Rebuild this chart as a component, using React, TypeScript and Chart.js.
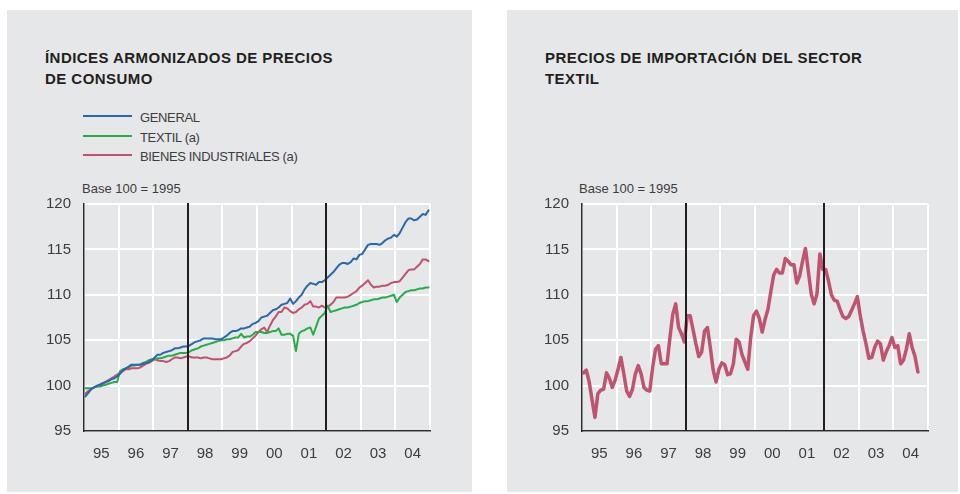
import React, { useEffect, useRef } from "react";
import { Chart, registerables } from "chart.js";

Chart.register(...registerables);

// ---------- DATA ----------
const yearLabels = ["95", "96", "97", "98", "99", "00", "01", "02", "03", "04"];
const breakMonths = [36, 84]; // Jan 1998, Jan 2002
const yTicks = [95, 100, 105, 110, 115, 120];

// Monthly, Jan 1995 - Dec 2004 (Base 100 = 1995)
const general = [
  98.8, 99.2, 99.6, 99.8, 100.0, 100.1, 100.2, 100.4, 100.5, 100.7, 100.8, 101.0,
  101.3, 101.7, 101.9, 102.1, 102.3, 102.3, 102.3, 102.3, 102.4, 102.5, 102.6, 102.8,
  103.1, 103.4, 103.4, 103.6, 103.7, 103.8, 103.9, 104.1, 104.1, 104.2, 104.3, 104.3,
  104.4, 104.6, 104.8, 104.9, 105.0, 105.2, 105.2, 105.2, 105.2, 105.1, 105.1, 105.1,
  105.3, 105.5, 105.8, 106.0, 106.0, 106.1, 106.3, 106.3, 106.4, 106.5, 106.8, 106.9,
  107.1, 107.5, 107.6, 107.7, 108.0, 108.3, 108.4, 108.6, 108.9, 109.0, 109.1, 109.6,
  109.0, 109.3, 109.7, 110.0, 110.6, 111.0, 111.3, 111.2, 111.1, 111.4, 111.4, 111.6,
  111.9, 112.2, 112.5, 112.9, 113.3, 113.5, 113.5, 113.4, 113.6, 114.0, 113.9, 114.4,
  114.5, 115.0, 115.5, 115.6, 115.6, 115.6, 115.5, 115.7, 116.0, 116.2, 116.3, 116.6,
  116.4, 116.8, 117.4, 118.0, 118.4, 118.4, 118.2, 118.3, 118.6, 118.9, 118.8, 119.3,
];

const textil = [
  99.7, 99.7, 99.7, 99.8, 99.9, 99.9, 100.0, 100.1, 100.2, 100.3, 100.4, 100.4,
  101.6, 101.8, 101.9, 102.0, 102.2, 102.2, 102.3, 102.3, 102.5, 102.6, 102.8, 102.9,
  102.9, 103.0, 103.0, 103.1, 103.2, 103.3, 103.3, 103.4, 103.5, 103.6, 103.6, 103.6,
  103.7, 103.9, 104.0, 104.1, 104.3, 104.4, 104.5, 104.6, 104.7, 104.8, 104.9, 105.0,
  105.0, 105.1, 105.1, 105.2, 105.3, 105.3, 105.7, 105.3, 105.4, 105.4, 105.6, 105.9,
  105.9, 105.9, 105.8, 105.8, 105.9, 106.0, 106.0, 106.3, 105.6, 105.6, 105.7, 105.7,
  105.5, 103.8, 105.7, 106.0, 106.1, 106.3, 106.4, 105.6, 106.5, 107.4, 107.7, 108.0,
  108.8, 108.1, 108.2, 108.3, 108.4, 108.5, 108.6, 108.6, 108.7, 108.8, 108.9, 109.1,
  109.2, 109.3, 109.3, 109.4, 109.5, 109.5, 109.6, 109.7, 109.7, 109.8, 109.9, 110.0,
  109.2, 109.7, 110.0, 110.3, 110.4, 110.5, 110.5, 110.6, 110.7, 110.7, 110.8, 110.8,
];

const bienesIndustriales = [
  99.1, 99.4, 99.6, 99.8, 99.9, 100.1, 100.3, 100.4, 100.6, 100.8, 101.0, 101.2,
  101.4, 101.6, 101.8, 101.8, 101.9, 101.9, 101.9, 102.0, 102.2, 102.4, 102.5, 102.7,
  102.9, 102.8, 102.7, 102.7, 102.6, 102.7, 102.9, 103.1, 103.1, 103.0, 103.1, 103.2,
  103.2, 103.1, 103.1, 103.1, 103.0, 103.1, 103.1, 103.0, 102.9, 102.9, 102.9, 102.9,
  103.0, 103.1, 103.3, 103.7, 103.8, 103.9, 104.3, 104.6, 104.7, 104.9, 105.2, 105.5,
  105.9, 106.2, 106.4, 105.9, 106.6, 107.2, 107.6, 108.1, 108.1, 108.6, 108.5, 108.2,
  108.0, 108.1, 108.4, 108.6, 108.9, 109.0, 109.3, 108.7, 108.7, 108.6, 108.8, 108.6,
  108.7, 108.9, 109.2, 109.7, 109.7, 109.7, 109.7, 109.8, 110.0, 110.2, 110.4, 110.8,
  111.0, 111.3, 111.6, 111.1, 110.8, 110.9, 110.9, 111.0, 111.0, 111.1, 111.3, 111.4,
  111.4, 111.5, 111.9, 112.3, 112.7, 112.8, 112.8, 113.1, 113.4, 113.9, 113.9, 113.7,
];

// Monthly, Jan 1995 - Sep 2004
const preciosImportacion = [
  101.4, 101.7, 100.4, 98.4, 96.5, 99.1, 99.5, 99.6, 101.4, 100.8, 99.8, 100.6,
  101.8, 103.1, 101.3, 99.4, 98.8, 99.6, 101.3, 102.2, 101.3, 99.8, 99.5, 99.4,
  102.0, 104.0, 104.4, 102.4, 102.4, 102.4, 105.3, 107.9, 109.0, 106.4, 105.7, 104.8,
  107.7, 107.7, 106.2, 104.6, 103.2, 103.7, 106.0, 106.4, 104.2, 101.7, 100.4, 101.8,
  102.5, 102.3, 101.2, 101.3, 102.4, 105.1, 104.8, 103.4, 102.6, 101.8, 105.3, 107.7,
  108.2, 107.4, 105.9, 107.3, 108.4, 110.4, 112.2, 112.8, 112.4, 112.4, 114.0, 113.7,
  113.3, 113.3, 111.3, 112.1, 113.7, 115.1, 112.6, 110.1, 109.0, 110.1, 114.5, 112.8,
  112.8, 111.5, 110.0, 109.4, 109.3, 108.4, 107.6, 107.4, 107.6, 108.3, 109.0, 109.8,
  107.7, 106.0, 104.6, 103.0, 103.1, 104.2, 104.9, 104.6, 102.8, 103.7, 104.4, 105.3,
  104.2, 104.4, 102.4, 102.8, 104.0, 105.7, 104.2, 103.2, 101.5,
];

const leftSeries = [
  { label: "GENERAL", values: general, color: "#2d67ab" },
  { label: "TEXTIL (a)", values: textil, color: "#25ad4b" },
  { label: "BIENES INDUSTRIALES (a)", values: bienesIndustriales, color: "#c1516f" },
];

// ---------- STYLE ----------
const PANEL_BG = "#e6e7e8";
const FONT = "'Liberation Sans', Arial, Helvetica, sans-serif";
const TEXT_DARK = "#231f20";
const TEXT_MID = "#3d3d3d";

const toPoints = (vals: number[]) => vals.map((v, i) => ({ x: i + 0.5, y: v }));

const breakLinesPlugin = {
  id: "breakLines",
  afterDatasetsDraw(chart: any) {
    const { ctx, chartArea, scales } = chart;
    ctx.save();
    ctx.strokeStyle = "#231f20";
    ctx.lineWidth = 2;
    breakMonths.forEach((m) => {
      const x = Math.round(scales.x.getPixelForValue(m));
      ctx.beginPath();
      ctx.moveTo(x, chartArea.top - 1);
      ctx.lineTo(x, chartArea.bottom);
      ctx.stroke();
    });
    ctx.restore();
  },
};

function LineChart({
  series,
  width,
  lineWidth,
  left,
}: {
  series: { label: string; values: number[]; color: string }[];
  width: number;
  lineWidth: number;
  left: number;
}) {
  const ref = useRef<HTMLCanvasElement | null>(null);
  useEffect(() => {
    if (!ref.current) return;
    const chart = new Chart(ref.current, {
      type: "line",
      data: {
        datasets: series.map((s) => ({
          label: s.label,
          data: toPoints(s.values),
          borderColor: s.color,
          backgroundColor: s.color,
          borderWidth: lineWidth,
          pointRadius: 0,
          tension: 0,
          borderJoinStyle: "round",
          borderCapStyle: "round",
          fill: false,
        })),
      },
      options: {
        animation: false,
        responsive: false,
        maintainAspectRatio: false,
        events: [],
        parsing: false,
        layout: { padding: { top: 10, right: 9, left: 0, bottom: 0 } },
        plugins: {
          legend: { display: false },
          tooltip: { enabled: false },
          title: { display: false },
        },
        scales: {
          x: {
            type: "linear",
            min: 0,
            max: 120,
            afterBuildTicks: (s: any) => {
              s.ticks = Array.from({ length: 21 }, (_, i) => ({ value: i * 6 }));
            },
            afterFit: (s: any) => {
              s.height = 44;
            },
            ticks: {
              autoSkip: false,
              maxRotation: 0,
              padding: 14,
              color: TEXT_MID,
              font: { family: FONT, size: 15 },
              callback: (v: any) => {
                const n = Number(v);
                return n % 12 === 6 ? yearLabels[(n - 6) / 12] : "";
              },
            },
            grid: {
              drawTicks: false,
              lineWidth: 2,
              color: (c: any) =>
                c.tick && c.tick.value % 12 === 0 ? "#ffffff" : "rgba(0,0,0,0)",
            },
            border: { display: true, color: "#2b2b2b", width: 1.5 },
          },
          y: {
            min: 95,
            max: 120,
            afterBuildTicks: (s: any) => {
              s.ticks = yTicks.map((v) => ({ value: v }));
            },
            afterFit: (s: any) => {
              s.width = 54;
            },
            ticks: {
              padding: 13,
              color: TEXT_MID,
              font: { family: FONT, size: 15 },
            },
            grid: { drawTicks: false, lineWidth: 2, color: "#ffffff" },
            border: { display: true, color: "#2b2b2b", width: 1.5 },
          },
        },
      } as any,
      plugins: [breakLinesPlugin],
    });
    return () => chart.destroy();
  }, []);
  return (
    <canvas
      ref={ref}
      width={width}
      height={293}
      style={{ position: "absolute", left, top: 182, width, height: 293, display: "block" }}
    />
  );
}

const textBase: React.CSSProperties = {
  position: "absolute",
  fontFamily: FONT,
  whiteSpace: "nowrap",
};

export default function App() {
  return (
    <div
      style={{
        position: "absolute",
        left: 0,
        top: 0,
        width: 960,
        height: 494,
        background: "#ffffff",
        overflow: "hidden",
      }}
    >
      {/* Left panel */}
      <div style={{ position: "absolute", left: 7, top: 10, width: 465, height: 482, background: PANEL_BG }} />
      {/* Right panel */}
      <div style={{ position: "absolute", left: 507, top: 10, width: 451, height: 482, background: PANEL_BG }} />

      {/* Left title */}
      <div
        style={{
          ...textBase,
          left: 45,
          top: 47.2,
          fontSize: 15,
          lineHeight: "21px",
          fontWeight: 700,
          letterSpacing: "0.45px",
          color: TEXT_DARK,
        }}
      >
        ÍNDICES ARMONIZADOS DE PRECIOS
        <br />
        DE CONSUMO
      </div>

      {/* Legend */}
      {leftSeries.map((s, i) => (
        <React.Fragment key={s.label}>
          <div
            style={{
              position: "absolute",
              left: 83,
              top: 115 + i * 19.5,
              width: 49,
              height: 2,
              background: s.color,
            }}
          />
          <div
            style={{
              ...textBase,
              left: 140,
              top: 110.2 + i * 19.5,
              fontSize: 13,
              lineHeight: "15px",
              letterSpacing: "-0.35px",
              color: TEXT_MID,
            }}
          >
            {s.label}
          </div>
        </React.Fragment>
      ))}

      <div style={{ ...textBase, left: 82, top: 181, fontSize: 13, lineHeight: "15px", color: TEXT_MID }}>
        Base 100 = 1995
      </div>

      {/* Right title */}
      <div
        style={{
          ...textBase,
          left: 545,
          top: 47.2,
          fontSize: 15,
          lineHeight: "21px",
          fontWeight: 700,
          letterSpacing: "0.45px",
          color: TEXT_DARK,
        }}
      >
        PRECIOS DE IMPORTACIÓN DEL SECTOR
        <br />
        TEXTIL
      </div>

      <div style={{ ...textBase, left: 579, top: 181, fontSize: 13, lineHeight: "15px", color: TEXT_MID }}>
        Base 100 = 1995
      </div>

      <LineChart series={leftSeries} width={414} lineWidth={2} left={30} />
      <LineChart
        series={[{ label: "PRECIOS DE IMPORTACIÓN", values: preciosImportacion, color: "#bf5371" }]}
        width={414}
        lineWidth={3.5}
        left={528}
      />
    </div>
  );
}
